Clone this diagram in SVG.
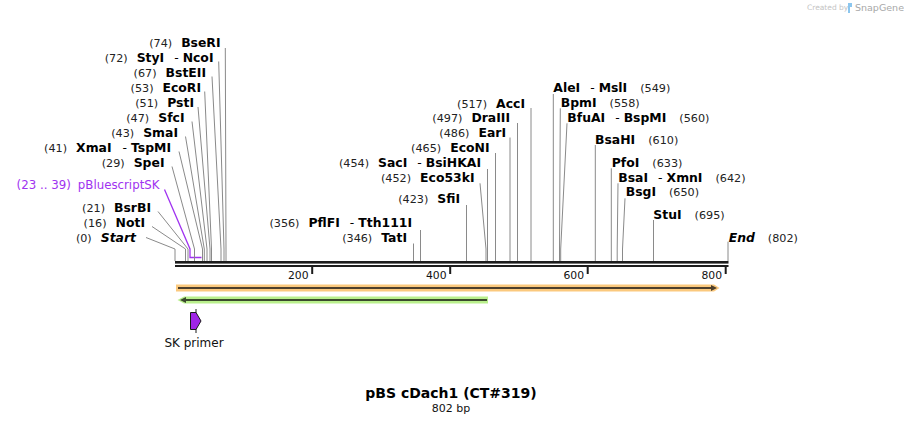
<svg xmlns="http://www.w3.org/2000/svg" width="904" height="424" viewBox="0 0 904 424">
<style>
text{font-family:"DejaVu Sans","Liberation Sans",sans-serif}
.nm{font-size:12.4px;font-weight:bold;fill:#000}
.num{font-size:11.2px;font-weight:normal;font-style:normal;fill:#222}
.reg{font-weight:normal}
.it{font-style:italic}
.ln{stroke:#8a8a8a;stroke-width:1;fill:none}
.tick{font-size:10.8px;fill:#111}
.pur{font-size:11.8px;fill:#a033f0}
</style>
<rect width="904" height="424" fill="#fff"/>
<g id="watermark">
<text x="807" y="10" font-size="7.5" fill="#c4c4c4">Created by</text>
<path d="M848 3 h4 v4 h-2 v6 h-2 z" fill="#8cc6ee"/>
<text x="855" y="11" font-size="9.5" fill="#a8a8a8">SnapGene</text>
</g>
<g id="connectors">
<path class="ln" d="M146 237.5 L175 249 V261"/>
<path class="ln" d="M152 226.5 L185.5 249 V261"/>
<path class="ln" d="M158 211.5 L188 249 V261"/>
<path d="M164.5 189.5 L190 249 V257.5 H201.5" stroke="#a033f0" stroke-width="1.3" fill="none"/>
<path class="ln" d="M172 166.5 L194.5 249 V261"/>
<path class="ln" d="M179 151.5 L202.5 249 V261"/>
<path class="ln" d="M185.5 136.5 L204.3 249 V261"/>
<path class="ln" d="M192 121.5 L207 249 V261"/>
<path class="ln" d="M198 107 L210 249 V261"/>
<path class="ln" d="M204.7 91.5 L211.5 249 V261"/>
<path class="ln" d="M212 76.5 L221 249 V261"/>
<path class="ln" d="M218.7 61.5 L224 249 V261"/>
<path class="ln" d="M225.3 48 L226 249 V261"/>
<path class="ln" d="M531 108 V261"/>
<path class="ln" d="M517.5 123 V261"/>
<path class="ln" d="M510 137.5 V261"/>
<path class="ln" d="M495.5 153 V261"/>
<path class="ln" d="M487.5 169 V261"/>
<path class="ln" d="M480 183.3 L486 249 V261"/>
<path class="ln" d="M466.5 205 V261"/>
<path class="ln" d="M420.5 230 V261"/>
<path class="ln" d="M413.5 243.5 V261"/>
<path class="ln" d="M553.3 94 V261"/>
<path class="ln" d="M560.3 108.3 L559.5 249 V261"/>
<path class="ln" d="M567 123.3 L560.7 249 V261"/>
<path class="ln" d="M595.3 145 V261"/>
<path class="ln" d="M611.3 168.3 V261"/>
<path class="ln" d="M618 183.3 L617.2 249 V261"/>
<path class="ln" d="M625 198.3 L622.5 249 V261"/>
<path class="ln" d="M653.5 220 V261"/>
<path class="ln" d="M728 241.7 V261"/>
</g>
<g id="ruler">
<rect x="175" y="261" width="553.5" height="2.6" fill="#1c1c1c"/>
<rect x="175" y="265" width="553.5" height="2" fill="#1c1c1c"/>
<rect x="311.2" y="266" width="2" height="8" fill="#1c1c1c"/>
<rect x="449.2" y="266" width="2" height="8" fill="#1c1c1c"/>
<rect x="586.7" y="266" width="2" height="8" fill="#1c1c1c"/>
<rect x="724.7" y="266" width="2" height="8" fill="#1c1c1c"/>
<text class="tick" x="308.5" y="279" text-anchor="end">200</text>
<text class="tick" x="446.5" y="279" text-anchor="end">400</text>
<text class="tick" x="584" y="279" text-anchor="end">600</text>
<text class="tick" x="722" y="279" text-anchor="end">800</text>
</g>
<g id="feature-orange">
<path d="M176 284.5 H714 L719.5 288 L714 291.5 H176 Z" fill="#fbc97e"/>
<path d="M178 288 H714" stroke="#4d3f2c" stroke-width="2"/>
<path d="M711 285 L717 288 L711 291 Z" fill="#4d3f2c"/>
</g>
<g id="feature-green">
<path d="M184 296.5 H488 V303.5 H184 L177.5 300 Z" fill="#b9ef8c"/>
<path d="M183 300 H487" stroke="#3b4a2d" stroke-width="2"/>
<path d="M186 297 L180 300 L186 303 Z" fill="#3b4a2d"/>
</g>
<g id="sk-primer">
<path d="M196 309 V333" stroke="#1a1a1a" stroke-width="1"/>
<polygon points="190.5,312.5 196,312.5 201,321 196,329.5 190.5,329.5" fill="#a024e6" stroke="#1a1a1a" stroke-width="1"/>
<text x="194" y="347" font-size="12" text-anchor="middle" fill="#111">SK primer</text>
</g>
<g id="BseRI"><text x="220.5" y="46.5" text-anchor="end"><tspan class="num">(74)</tspan><tspan class="nm" dx="9">BseRI</tspan></text></g>
<g id="StyI-NcoI"><text x="213.5" y="61.5" text-anchor="end"><tspan class="num">(72)</tspan><tspan class="nm" dx="9">StyI<tspan class="reg" dx="10">-</tspan><tspan dx="4">NcoI</tspan></tspan></text></g>
<g id="BstEII"><text x="206" y="76.5" text-anchor="end"><tspan class="num">(67)</tspan><tspan class="nm" dx="9">BstEII</tspan></text></g>
<g id="EcoRI"><text x="201" y="91.5" text-anchor="end"><tspan class="num">(53)</tspan><tspan class="nm" dx="9">EcoRI</tspan></text></g>
<g id="PstI"><text x="194" y="106.5" text-anchor="end"><tspan class="num">(51)</tspan><tspan class="nm" dx="9">PstI</tspan></text></g>
<g id="SfcI"><text x="184.5" y="121.5" text-anchor="end"><tspan class="num">(47)</tspan><tspan class="nm" dx="9">SfcI</tspan></text></g>
<g id="SmaI"><text x="178" y="136.5" text-anchor="end"><tspan class="num">(43)</tspan><tspan class="nm" dx="9">SmaI</tspan></text></g>
<g id="XmaI-TspMI"><text x="171" y="151.5" text-anchor="end"><tspan class="num">(41)</tspan><tspan class="nm" dx="9">XmaI<tspan class="reg" dx="11">-</tspan><tspan dx="4">TspMI</tspan></tspan></text></g>
<g id="SpeI"><text x="164.5" y="166.5" text-anchor="end"><tspan class="num">(29)</tspan><tspan class="nm" dx="9">SpeI</tspan></text></g>
<g id="pBluescriptSK"><text x="159.5" y="188.5" text-anchor="end" class="pur">(23 .. 39)<tspan dx="7">pBluescriptSK</tspan></text></g>
<g id="BsrBI"><text x="151" y="211.5" text-anchor="end"><tspan class="num">(21)</tspan><tspan class="nm" dx="9">BsrBI</tspan></text></g>
<g id="NotI"><text x="145" y="226.5" text-anchor="end"><tspan class="num">(16)</tspan><tspan class="nm" dx="9">NotI</tspan></text></g>
<g id="Start"><text x="136" y="241.5" text-anchor="end"><tspan class="num">(0)</tspan><tspan class="nm it" dx="9">Start</tspan></text></g>
<g id="AccI"><text x="525" y="107.5" text-anchor="end"><tspan class="num">(517)</tspan><tspan class="nm" dx="9">AccI</tspan></text></g>
<g id="DraIII"><text x="510" y="121.5" text-anchor="end"><tspan class="num">(497)</tspan><tspan class="nm" dx="9">DraIII</tspan></text></g>
<g id="EarI"><text x="506" y="136.5" text-anchor="end"><tspan class="num">(486)</tspan><tspan class="nm" dx="9">EarI</tspan></text></g>
<g id="EcoNI"><text x="489.5" y="151.5" text-anchor="end"><tspan class="num">(465)</tspan><tspan class="nm" dx="9">EcoNI</tspan></text></g>
<g id="SacI-BsiHKAI"><text x="481" y="166.5" text-anchor="end"><tspan class="num">(454)</tspan><tspan class="nm" dx="9">SacI<tspan class="reg" dx="10">-</tspan><tspan dx="4">BsiHKAI</tspan></tspan></text></g>
<g id="Eco53kI"><text x="474.5" y="181.5" text-anchor="end"><tspan class="num">(452)</tspan><tspan class="nm" dx="9">Eco53kI</tspan></text></g>
<g id="SfiI"><text x="460" y="202.5" text-anchor="end"><tspan class="num">(423)</tspan><tspan class="nm" dx="9">SfiI</tspan></text></g>
<g id="PflFI-Tth111I"><text x="412" y="226.5" text-anchor="end"><tspan class="num">(356)</tspan><tspan class="nm" dx="9">PflFI<tspan class="reg" dx="10">-</tspan><tspan dx="4">Tth111I</tspan></tspan></text></g>
<g id="TatI"><text x="407" y="241.5" text-anchor="end"><tspan class="num">(346)</tspan><tspan class="nm" dx="9">TatI</tspan></text></g>
<g id="AleI-MslI"><text x="553.3" y="91.5"><tspan class="nm">AleI<tspan class="reg" dx="10">-</tspan><tspan dx="4">MslI</tspan></tspan><tspan class="num" dx="13">(549)</tspan></text></g>
<g id="BpmI"><text x="560.7" y="106.5"><tspan class="nm">BpmI</tspan><tspan class="num" dx="13">(558)</tspan></text></g>
<g id="BfuAI-BspMI"><text x="567.3" y="121.5"><tspan class="nm">BfuAI<tspan class="reg" dx="10">-</tspan><tspan dx="4">BspMI</tspan></tspan><tspan class="num" dx="13">(560)</tspan></text></g>
<g id="BsaHI"><text x="595" y="144"><tspan class="nm">BsaHI</tspan><tspan class="num" dx="13">(610)</tspan></text></g>
<g id="PfoI"><text x="611.7" y="166.5"><tspan class="nm">PfoI</tspan><tspan class="num" dx="13">(633)</tspan></text></g>
<g id="BsaI-XmnI"><text x="618.3" y="181.5"><tspan class="nm">BsaI<tspan class="reg" dx="10">-</tspan><tspan dx="4">XmnI</tspan></tspan><tspan class="num" dx="13">(642)</tspan></text></g>
<g id="BsgI"><text x="625.7" y="196"><tspan class="nm">BsgI</tspan><tspan class="num" dx="13">(650)</tspan></text></g>
<g id="StuI"><text x="653.3" y="218.5"><tspan class="nm">StuI</tspan><tspan class="num" dx="13">(695)</tspan></text></g>
<g id="End"><text x="728.7" y="241.5"><tspan class="nm it">End</tspan><tspan class="num" dx="13">(802)</tspan></text></g>
<g id="title">
<text x="451" y="398" font-size="14" font-weight="bold" text-anchor="middle" fill="#000">pBS cDach1 (CT#319)</text>
<text x="451" y="412" font-size="11" text-anchor="middle" fill="#111">802 bp</text>
</g>
</svg>
